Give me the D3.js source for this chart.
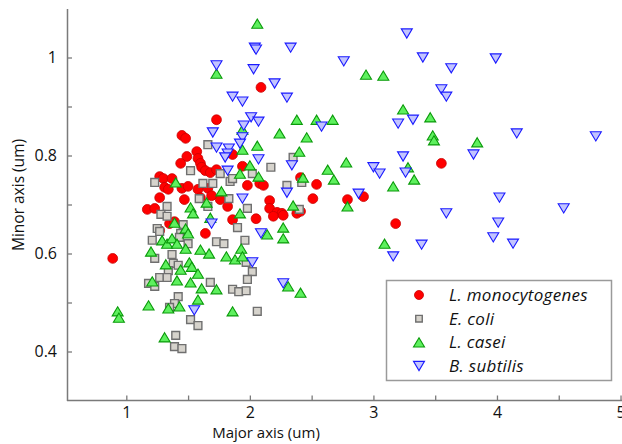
<!DOCTYPE html>
<html><head><meta charset="utf-8">
<script src="https://cdn.jsdelivr.net/npm/d3@7"></script>
<style>
html,body{margin:0;padding:0;background:#fff;}
svg{display:block;}
text{font-family:"Open Sans",sans-serif;}
</style></head>
<body><svg id="c" width="622" height="444"></svg>
<script>
// ---- data (major axis um, minor axis um) ----
const seriesNames = ["L. monocytogenes","E. coli","L. casei","B. subtilis"];
const monocytogenes = [
[0.89,0.590],[2.09,0.939],[1.73,0.873],[1.45,0.841],[1.48,0.835],[1.57,0.808],[1.49,0.798],[1.44,0.784],
[1.58,0.794],[1.60,0.784],[1.61,0.776],[1.64,0.769],[1.68,0.765],[1.73,0.771],[1.86,0.802],[1.94,0.778],
[1.27,0.757],[1.30,0.753],[1.37,0.753],[1.31,0.735],[1.34,0.731],[1.45,0.733],[1.50,0.737],[1.58,0.731],
[1.66,0.733],[1.27,0.714],[1.47,0.710],[1.60,0.714],[1.76,0.710],[1.98,0.739],[2.08,0.743],[2.11,0.739],
[2.16,0.708],[1.17,0.690],[1.23,0.692],[1.82,0.696],[2.16,0.692],[2.22,0.684],[2.26,0.682],[2.19,0.676],
[2.38,0.682],[2.41,0.686],[1.35,0.661],[1.39,0.665],[1.27,0.647],[1.64,0.641],[1.86,0.669],[2.05,0.671],
[2.41,0.755],[2.54,0.741],[2.51,0.712],[2.79,0.710],[2.92,0.716],[3.18,0.661],[3.55,0.784],[2.27,0.678],
[1.69,0.718]
];
const ecoli = [
[1.66,0.822],[1.52,0.769],[1.23,0.745],[1.62,0.743],[1.70,0.743],[1.76,0.763],[1.84,0.747],[1.86,0.753],
[2.02,0.763],[2.17,0.776],[2.35,0.796],[2.30,0.739],[2.42,0.745],[1.59,0.712],[1.33,0.696],[1.28,0.680],
[1.33,0.676],[1.66,0.696],[1.83,0.712],[1.98,0.692],[2.40,0.690],[1.25,0.651],[1.27,0.645],[1.46,0.659],
[1.44,0.641],[1.43,0.633],[1.50,0.620],[1.21,0.627],[1.23,0.590],[1.37,0.598],[1.38,0.580],[1.42,0.576],
[1.34,0.565],[1.27,0.551],[1.33,0.551],[1.18,0.539],[1.23,0.533],[1.42,0.512],[1.39,0.498],[1.35,0.490],
[1.52,0.465],[1.58,0.453],[1.40,0.433],[1.39,0.410],[1.45,0.406],[1.68,0.541],[1.90,0.653],[1.73,0.624],
[1.79,0.620],[1.96,0.627],[1.97,0.582],[2.02,0.563],[1.98,0.547],[1.86,0.527],[1.91,0.522],[1.97,0.524],
[2.06,0.482]
];
const casei = [
[2.06,1.069],[1.73,0.967],[2.94,0.965],[3.08,0.963],[3.24,0.894],[3.46,0.878],[3.48,0.841],[3.49,0.831],
[3.84,0.827],[2.38,0.873],[2.54,0.873],[2.67,0.873],[2.24,0.845],[2.46,0.837],[2.40,0.808],[3.28,0.776],
[3.33,0.751],[3.16,0.737],[2.63,0.771],[2.78,0.786],[2.68,0.751],[2.43,0.755],[2.35,0.698],[2.79,0.696],
[2.27,0.653],[2.27,0.631],[3.09,0.620],[1.94,0.853],[2.06,0.820],[1.94,0.812],[2.00,0.780],[1.92,0.763],
[2.07,0.757],[1.77,0.727],[1.40,0.745],[1.52,0.694],[1.54,0.682],[1.65,0.704],[1.92,0.682],[1.68,0.673],
[1.39,0.663],[1.48,0.651],[1.50,0.641],[1.29,0.627],[1.33,0.620],[1.37,0.631],[1.41,0.620],[1.48,0.610],
[1.20,0.604],[1.60,0.608],[1.67,0.600],[1.81,0.594],[1.88,0.588],[1.93,0.610],[1.94,0.594],[2.14,0.639],
[1.32,0.578],[1.44,0.567],[1.51,0.582],[1.53,0.573],[1.58,0.559],[1.21,0.543],[1.41,0.545],[1.52,0.541],
[1.61,0.529],[1.73,0.527],[2.31,0.533],[2.41,0.520],[0.93,0.482],[0.94,0.469],[1.18,0.494],[1.34,0.488],
[1.43,0.492],[1.58,0.506],[1.86,0.482],[1.31,0.429]
];
const subtilis = [
[2.04,1.020],[2.05,1.016],[2.33,1.020],[1.73,0.984],[2.03,0.976],[2.20,0.947],[1.86,0.920],[1.94,0.910],
[2.30,0.918],[3.27,1.049],[2.76,0.992],[3.40,1.000],[3.99,0.998],[3.63,0.978],[3.55,0.935],[3.59,0.920],
[3.20,0.865],[3.32,0.873],[2.58,0.859],[4.16,0.845],[4.80,0.839],[3.24,0.798],[3.81,0.802],[2.34,0.780],
[3.00,0.776],[3.05,0.763],[3.26,0.765],[2.30,0.724],[2.88,0.722],[4.02,0.714],[4.54,0.692],[3.59,0.682],
[4.01,0.663],[3.97,0.633],[4.13,0.620],[3.39,0.618],[3.16,0.594],[2.01,0.878],[2.07,0.869],[1.95,0.861],
[1.70,0.847],[1.94,0.837],[1.92,0.824],[1.73,0.816],[1.83,0.814],[1.82,0.804],[1.80,0.796],[2.07,0.792],
[1.82,0.769],[1.94,0.712],[1.69,0.661],[2.09,0.641],[2.02,0.582],[2.27,0.539],[1.55,0.484]
];
const xTicks = [1,1.5,2,2.5,3,3.5,4,4.5,5];
const xTickLabels = ["1","","2","","3","","4","","5"];
const yTicks = [0.4,0.5,0.6,0.7,0.8,0.9,1.0];
const yTickLabels = ["0.4","","0.6","","0.8","","1"];
const xTitle = "Major axis (um)";
const yTitle = "Minor axis (um)";

// ---- drawing ----
const svg = d3.select("#c");
const x = d3.scaleLinear().domain([0.52, 5.02]).range([67, 623]);
const y = d3.scaleLinear().domain([0.3, 1.1]).range([400.5, 8.5]);
const axisColor = "#7a7a7a";

// custom triangle symbols
const triUp = {draw(ctx, s){ const w=5.5,h=4.6; ctx.moveTo(0,-h); ctx.lineTo(w,h); ctx.lineTo(-w,h); ctx.closePath(); }};
const triDown = {draw(ctx, s){ const w=5.5,h=4.6; ctx.moveTo(-w,-h); ctx.lineTo(w,-h); ctx.lineTo(0,h); ctx.closePath(); }};
const styles = [
  {data: monocytogenes, type: d3.symbolCircle, size: Math.PI*4.9*4.9, fill:"#ff0000", stroke:"#c80000", sw:0.8},
  {data: ecoli, type: d3.symbolSquare, size: 7.8*7.8, fill:"#d6d3cc", stroke:"#6f6f6f", sw:1.4},
  {data: casei, type: triUp, size: 64, fill:"#5ef05e", stroke:"#0a9a0a", sw:1.1},
  {data: subtilis, type: triDown, size: 64, fill:"#c2c4ff", stroke:"#1a1aff", sw:1.1}
];

// axes
const gx = svg.append("g").attr("transform","translate(0,400.5)")
  .call(d3.axisBottom(x).tickValues(xTicks).tickSizeInner(-5).tickSizeOuter(0).tickPadding(9)
        .tickFormat((d,i)=>xTickLabels[i]));
gx.select(".domain").attr("stroke",axisColor).attr("stroke-width",1.5).attr("d","M67,0H622");
gx.selectAll(".tick line").attr("stroke",axisColor).attr("stroke-width",1.3);
gx.selectAll(".tick text").attr("fill","#111").attr("font-size",16).attr("dy","0.5em");

const gy = svg.append("g").attr("transform","translate(67,0)")
  .call(d3.axisLeft(y).tickValues(yTicks).tickSizeInner(-5).tickSizeOuter(0).tickPadding(10)
        .tickFormat((d,i)=>yTickLabels[i]));
gy.select(".domain").attr("stroke",axisColor).attr("stroke-width",1.5);
gy.selectAll(".tick line").attr("stroke",axisColor).attr("stroke-width",1.3);
gy.selectAll(".tick text").attr("fill","#111").attr("font-size",16);
svg.selectAll(".tick text").attr("font-family","'Open Sans',sans-serif");

// titles
svg.append("text").attr("x",266).attr("y",438).attr("text-anchor","middle")
  .attr("font-size",15).attr("fill","#111").text(xTitle);
svg.append("text").attr("transform","translate(24,195) rotate(-90)").attr("text-anchor","middle")
  .attr("font-size",15.5).attr("fill","#111").text(yTitle);

// points
styles.forEach(st=>{
  const sym = d3.symbol().type(st.type).size(st.size);
  svg.append("g").selectAll("path").data(st.data).join("path")
    .attr("d", sym)
    .attr("transform", d=>`translate(${x(d[0])},${y(d[1])})`)
    .attr("fill", st.fill).attr("stroke", st.stroke).attr("stroke-width", st.sw);
});

// legend
const lg = svg.append("g");
lg.append("rect").attr("x",386.5).attr("y",280.5).attr("width",225).attr("height",100)
  .attr("fill","#fff").attr("stroke","#9a9a9a").attr("stroke-width",1.5);
const ly = d3.scalePoint().domain(seriesNames).range([295,366]);
seriesNames.forEach((nm,i)=>{
  const st = styles[i];
  const sym = d3.symbol().type(st.type).size(st.size*(i===1?0.7:0.85));
  lg.append("path").attr("d",sym).attr("transform",`translate(419,${ly(nm)})`)
    .attr("fill",st.fill).attr("stroke",st.stroke).attr("stroke-width",st.sw);
  lg.append("text").attr("x",449).attr("y",ly(nm)).attr("dy","0.36em")
    .attr("font-size",17).attr("letter-spacing",0.3).attr("font-style","italic").attr("fill","#111").text(nm);
});
</script></body></html>
